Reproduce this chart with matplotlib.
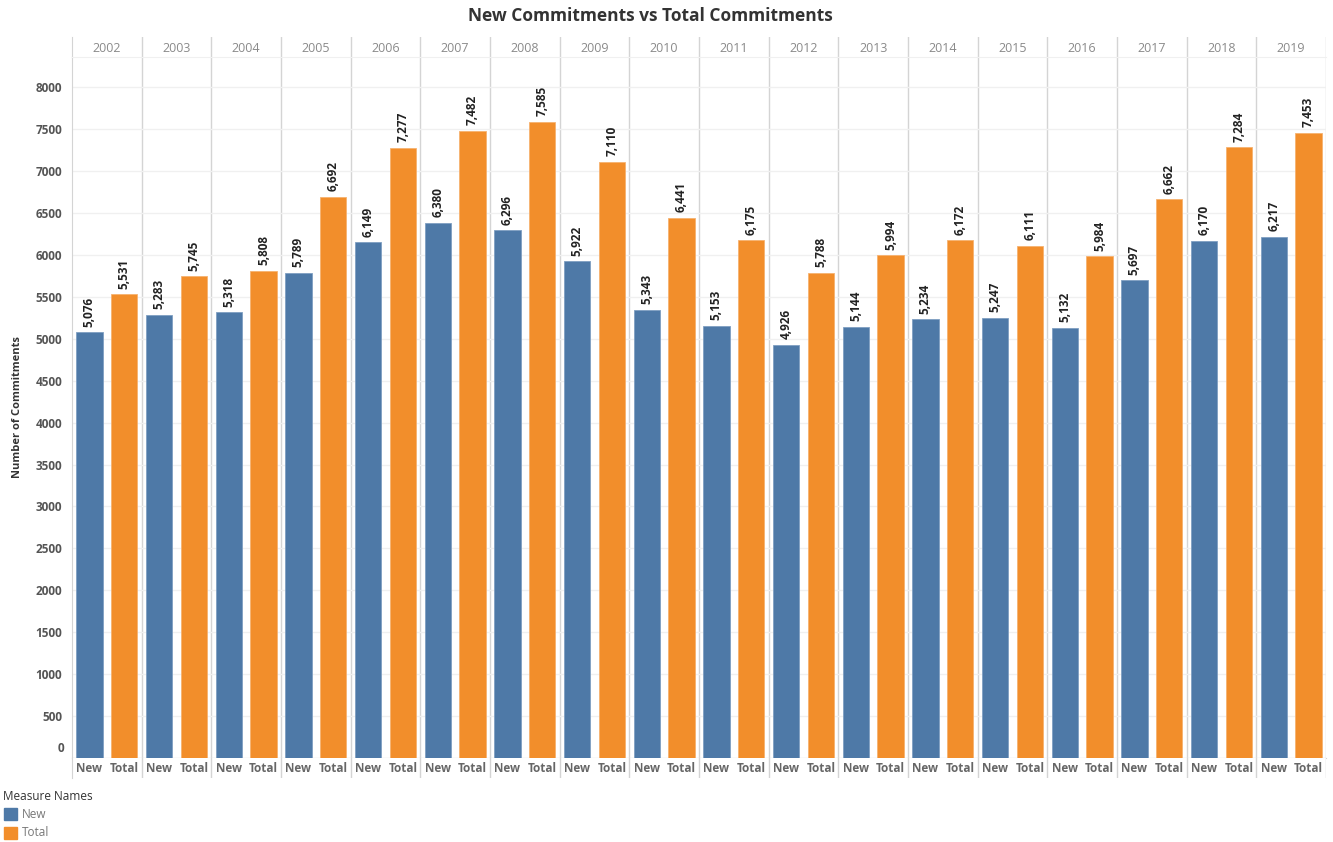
import matplotlib
matplotlib.use("Agg")
import matplotlib.pyplot as plt
from matplotlib.patches import Rectangle
from matplotlib.transforms import blended_transform_factory

plt.rcParams['font.family'] = ['Open Sans', 'DejaVu Sans']

years = [2002, 2003, 2004, 2005, 2006, 2007, 2008, 2009, 2010,
         2011, 2012, 2013, 2014, 2015, 2016, 2017, 2018, 2019]
new_commitments = [5076, 5283, 5318, 5789, 6149, 6380, 6296, 5922, 5343,
                   5153, 4926, 5144, 5234, 5247, 5132, 5697, 6170, 6217]
total_commitments = [5531, 5745, 5808, 6692, 7277, 7482, 7585, 7110, 6441,
                     6175, 5788, 5994, 6172, 6111, 5984, 6662, 7284, 7453]
measures = ["New", "Total"]
y_ticks = [0, 500, 1000, 1500, 2000, 2500, 3000, 3500, 4000,
           4500, 5000, 5500, 6000, 6500, 7000, 7500, 8000]

BLUE = "#4e79a7"
ORANGE = "#f28e2b"
SEP = "#d4d4d4"
GRID = "#f0f0f0"

W, H = 1333, 842
fig = plt.figure(figsize=(W / 100, H / 100), dpi=100)

left, right = 72 / W, 1326 / W
top_px, zero_px = 57, 758
hdr_px = 37
lab_px = 778

ax = fig.add_axes([left, 1 - zero_px / H, right - left, (zero_px - top_px) / H])
hdr = fig.add_axes([left, 1 - top_px / H, right - left, (top_px - hdr_px) / H], sharex=ax)
lab = fig.add_axes([left, 1 - lab_px / H, right - left, (lab_px - zero_px) / H], sharex=ax)

n = len(years)
ax.set_xlim(0, 2 * n)
ax.set_ylim(0, 8360)

xs_new = [2 * i + 0.5 for i in range(n)]
xs_tot = [2 * i + 1.5 for i in range(n)]
bw = 0.76
ax.bar(xs_new, new_commitments, width=bw, color=BLUE,
       edgecolor="#7f9fc2", linewidth=0.6, zorder=3)
ax.bar(xs_tot, total_commitments, width=bw, color=ORANGE,
       edgecolor="#f6b270", linewidth=0.6, zorder=3)

for x, v in zip(xs_new + xs_tot, new_commitments + total_commitments):
    ax.annotate(f"{v:,}", (x, v), xytext=(0, 4), textcoords="offset points",
                rotation=90, ha="center", va="bottom", fontsize=8.5,
                fontweight="bold", color="#222222")

# y axis: the zero label sits a little above the baseline
ax.set_yticks(y_ticks)
ax.set_yticklabels([str(t) if t else "" for t in y_ticks], fontsize=8.5,
                   color="#555555", fontweight="bold")
ax.tick_params(axis="y", length=0, pad=7)
ax.tick_params(axis="x", length=0, labelbottom=False)
yblend = blended_transform_factory(fig.transFigure, ax.transData)
fig.text(64 / W, 1 - 749 / H, "0", ha="right", va="center", fontsize=8.5,
         color="#555555", fontweight="bold")
ax.yaxis.grid(True, color=GRID, linewidth=1, zorder=0)
for s in ax.spines.values():
    s.set_visible(False)
ax.spines['left'].set_visible(True)
ax.spines['left'].set_color(SEP)
ax.spines['bottom'].set_visible(True)
ax.spines['bottom'].set_color(SEP)
for i in range(1, n + 1):
    ax.axvline(2 * i, color=SEP, linewidth=1, zorder=1)
ax.set_ylabel("Number of Commitments", fontsize=8, fontweight="bold",
              color="#333333", labelpad=9)

# year header row
hdr.set_ylim(0, 1)
hdr.set_xticks([])
hdr.set_yticks([])
for s in hdr.spines.values():
    s.set_visible(False)
hdr.spines['bottom'].set_visible(True)
hdr.spines['bottom'].set_color(GRID)
hdr.spines['left'].set_visible(True)
hdr.spines['left'].set_color(SEP)
for i, yr in enumerate(years):
    hdr.text(2 * i + 1, 0.45, str(yr), ha="center", va="center",
             fontsize=9, color="#8a8a8a")
    hdr.axvline(2 * (i + 1), color=SEP, linewidth=1)

# measure labels row
lab.set_ylim(0, 1)
lab.set_xticks([])
lab.set_yticks([])
for s in lab.spines.values():
    s.set_visible(False)
lab.spines['left'].set_visible(True)
lab.spines['left'].set_color(SEP)
for i in range(n):
    lab.text(2 * i + 0.5, 0.45, measures[0], ha="center", va="center",
             fontsize=8.5, fontweight="bold", color="#666666")
    lab.text(2 * i + 1.5, 0.45, measures[1], ha="center", va="center",
             fontsize=8.5, fontweight="bold", color="#666666")
    lab.axvline(2 * (i + 1), color=SEP, linewidth=1)

fig.text(650 / W, 1 - 16 / H, "New Commitments vs Total Commitments",
         ha="center", va="center", fontsize=12.5, fontweight="bold",
         color="#333333")

# legend
fig.text(3 / W, 1 - 797 / H, "Measure Names", ha="left", va="center",
         fontsize=8.5, color="#333333")
for k, (name, col) in enumerate(zip(measures, [BLUE, ORANGE])):
    yc = 814 + 19 * k
    fig.patches.append(Rectangle((4 / W, 1 - (yc + 6) / H), 13 / W, 12 / H,
                                 transform=fig.transFigure, color=col))
    fig.text(22 / W, 1 - yc / H, name, ha="left", va="center",
             fontsize=8.5, color="#777777")

fig.savefig("out.png", dpi=100, facecolor="white")
